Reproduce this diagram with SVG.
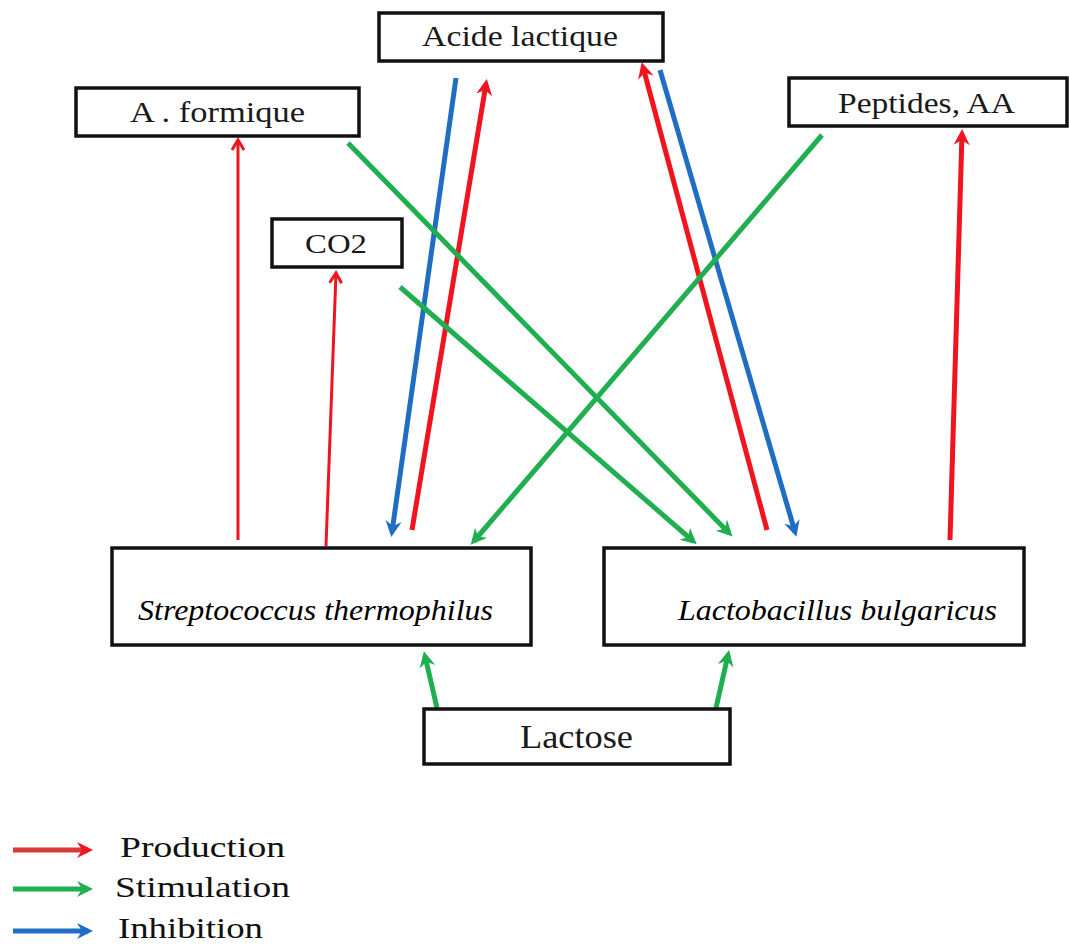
<svg xmlns="http://www.w3.org/2000/svg" width="1069" height="946" viewBox="0 0 1069 946">
<style>
.box{fill:#fff;stroke:#111;stroke-width:3.5}
.t{font-family:'Liberation Serif','Times New Roman',serif;fill:#1a1a1a;font-size:29px}
.it{font-family:'Liberation Serif','Times New Roman',serif;fill:#000;font-size:30px;font-style:italic}
.lg{font-family:'Liberation Serif','Times New Roman',serif;fill:#111;font-size:30px}
.red{stroke:#f0141e;stroke-width:5;fill:none}
.redthin{stroke:#f0141e;stroke-width:3;fill:none}
.green{stroke:#1fae50;stroke-width:5;fill:none}
.blue{stroke:#1f6ec4;stroke-width:5;fill:none}
</style>
<defs>
<marker id="hr" markerUnits="userSpaceOnUse" markerWidth="20" markerHeight="20" viewBox="0 0 20 20" refX="13" refY="10" orient="auto"><path d="M2,2 L18,10 L2,18 L7,10 Z" fill="#f0141e"/></marker>
<marker id="hrt" markerUnits="userSpaceOnUse" markerWidth="16" markerHeight="16" viewBox="0 0 16 16" refX="13" refY="8" orient="auto"><path d="M3,2 L13,8 L3,14" fill="none" stroke="#f0141e" stroke-width="3"/></marker>
<marker id="hg" markerUnits="userSpaceOnUse" markerWidth="20" markerHeight="20" viewBox="0 0 20 20" refX="13" refY="10" orient="auto"><path d="M2,2 L18,10 L2,18 L7,10 Z" fill="#1fae50"/></marker>
<marker id="hb" markerUnits="userSpaceOnUse" markerWidth="20" markerHeight="20" viewBox="0 0 20 20" refX="13" refY="10" orient="auto"><path d="M2,2 L18,10 L2,18 L7,10 Z" fill="#1f6ec4"/></marker>
</defs>

<g id="connectors">
<line class="redthin" x1="238" y1="540" x2="238" y2="140" marker-end="url(#hrt)"/>
<line class="redthin" x1="326" y1="546" x2="336" y2="273" marker-end="url(#hrt)"/>
<line class="red" x1="412" y1="530" x2="486" y2="84" marker-end="url(#hr)"/>
<line class="blue" x1="456" y1="78" x2="392" y2="532" marker-end="url(#hb)"/>
<line class="red" x1="767" y1="530" x2="643" y2="67" marker-end="url(#hr)"/>
<line class="blue" x1="660" y1="70" x2="795" y2="532" marker-end="url(#hb)"/>
<line class="red" x1="950" y1="540" x2="962" y2="134" marker-end="url(#hr)"/>
<line class="green" x1="348" y1="143" x2="729" y2="533" marker-end="url(#hg)"/>
<line class="green" x1="400" y1="287" x2="693" y2="541" marker-end="url(#hg)"/>
<line class="green" x1="822" y1="135" x2="474" y2="541" marker-end="url(#hg)"/>
<line class="green" x1="437" y1="708" x2="425" y2="656" marker-end="url(#hg)"/>
<line class="green" x1="716" y1="708" x2="728" y2="655" marker-end="url(#hg)"/>
</g>

<g id="acide-lactique">
<rect class="box" x="379" y="13" width="284" height="48"/>
<text class="t" x="422" y="46" textLength="196" lengthAdjust="spacingAndGlyphs">Acide lactique</text>
</g>
<g id="a-formique">
<rect class="box" x="76" y="88" width="283" height="48"/>
<text class="t" x="130" y="122" textLength="175" lengthAdjust="spacingAndGlyphs">A . formique</text>
</g>
<g id="peptides">
<rect class="box" x="789" y="78" width="278" height="48"/>
<text class="t" x="838" y="113" textLength="177" lengthAdjust="spacingAndGlyphs">Peptides, AA</text>
</g>
<g id="co2">
<rect class="box" x="272" y="219" width="130" height="48"/>
<text class="t" x="305" y="253" style="font-size:27px" textLength="62" lengthAdjust="spacingAndGlyphs">CO2</text>
</g>
<g id="streptococcus">
<rect class="box" x="112" y="548" width="419" height="97"/>
<text class="it" x="138" y="620" textLength="355" lengthAdjust="spacingAndGlyphs">Streptococcus thermophilus</text>
</g>
<g id="lactobacillus">
<rect class="box" x="604" y="548" width="420" height="97"/>
<text class="it" x="678" y="620" textLength="319" lengthAdjust="spacingAndGlyphs">Lactobacillus bulgaricus</text>
</g>
<g id="lactose">
<rect class="box" x="424" y="709" width="306" height="55"/>
<text class="t" x="520" y="748" style="font-size:33px" textLength="113" lengthAdjust="spacingAndGlyphs">Lactose</text>
</g>

<g id="legend">
<line x1="13" y1="850" x2="88" y2="850" stroke="#d63a3a" stroke-width="5" marker-end="url(#hr)"/>
<text class="lg" x="120" y="857" textLength="165" lengthAdjust="spacingAndGlyphs">Production</text>
<line x1="13" y1="889" x2="88" y2="889" class="green" marker-end="url(#hg)"/>
<text class="lg" x="115" y="897" textLength="175" lengthAdjust="spacingAndGlyphs">Stimulation</text>
<line x1="13" y1="931" x2="88" y2="931" class="blue" marker-end="url(#hb)"/>
<text class="lg" x="118" y="938" textLength="145" lengthAdjust="spacingAndGlyphs">Inhibition</text>
</g>
</svg>
